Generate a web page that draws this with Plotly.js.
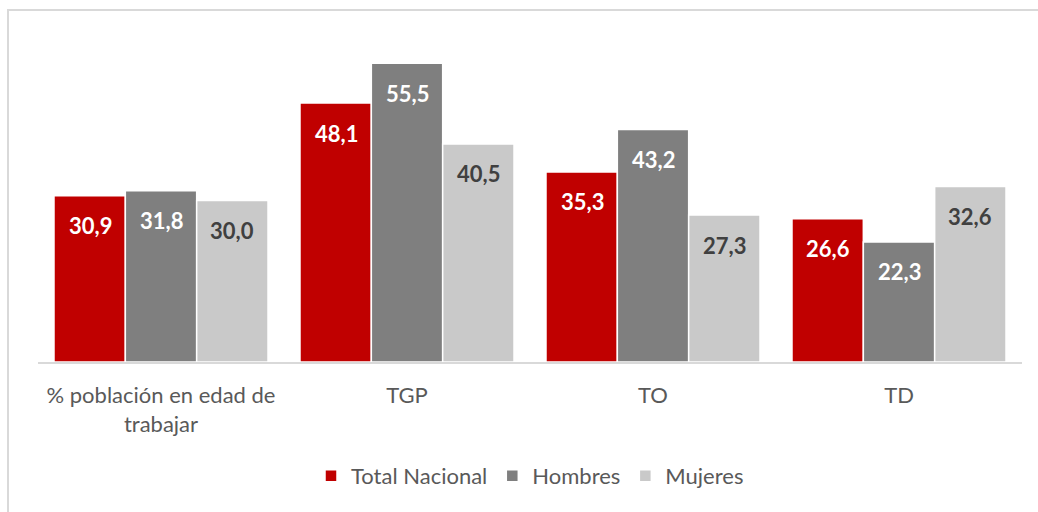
<!DOCTYPE html>
<html>
<head>
<meta charset="utf-8">
<script src="https://cdn.plot.ly/plotly-3.0.1.min.js"></script>
<style>
html,body{margin:0;padding:0;background:#fff;}
#wrap{position:relative;width:1038px;height:512px;}
#frame{position:absolute;left:7px;top:9px;right:0;bottom:0;border-top:2px solid #d9d9d9;border-left:2px solid #d9d9d9;pointer-events:none;}
#chart{position:absolute;left:0;top:0;width:1038px;height:512px;}
</style>
</head>
<body>
<div id="wrap"><div id="chart"></div><div id="frame"></div></div>
<script>
const categories = ["% población en edad de<br>trabajar", "TGP", "TO", "TD"];
const totalNacional = [30.9, 48.1, 35.3, 26.6];
const hombres = [31.8, 55.5, 43.2, 22.3];
const mujeres = [30.0, 40.5, 27.3, 32.6];
const seriesNames = ["Total Nacional", "Hombres", "Mujeres"];
const seriesColors = ["#c00000", "#7f7f7f", "#c9c9c9"];
const labelColors = ["#ffffff", "#ffffff", "#404040"];
const seriesValues = [totalNacional, hombres, mujeres];

const font = "Lato, 'Open Sans', sans-serif";
const barStep = 71;     // pixel offset between bars within a group (style)
const labelDrop = -30;  // label offset below bar top (style)

const traces = seriesValues.map((vals, i) => ({
  type: "bar",
  name: seriesNames[i],
  x: categories,
  y: vals,
  marker: {color: seriesColors[i], line: {color: "#ffffff", width: 1.5}},
  hoverinfo: "none"
}));

const annotations = [];
seriesValues.forEach((vals, i) => {
  vals.forEach((v, j) => {
    annotations.push({
      x: categories[j], y: v, xref: "x", yref: "y",
      xshift: (i - 1) * barStep, yshift: labelDrop,
      text: v.toFixed(1).replace(".", ","),
      showarrow: false, xanchor: "center", yanchor: "middle",
      font: {family: font, size: 22, color: labelColors[i], weight: "bold"}
    });
  });
});

const layout = {
  width: 1038, height: 512,
  margin: {l: 38, r: 16, t: 39, b: 150},
  paper_bgcolor: "#ffffff",
  plot_bgcolor: "#ffffff",
  separators: ",.",
  barmode: "group",
  bargap: 0.13,
  bargroupgap: 0,
  showlegend: true,
  legend: {orientation: "h", x: 0.5, xanchor: "center", y: -0.353, yanchor: "middle",
    font: {family: font, size: 22, color: "#595959"}, itemwidth: 30, traceorder: "normal"},
  xaxis: {type: "category", showline: true, linecolor: "#d9d9d9", linewidth: 1.5,
    ticks: "", ticklabelstandoff: 13, tickfont: {family: font, size: 22, color: "#595959"},
    showgrid: false, zeroline: false},
  yaxis: {range: [0, 60], visible: false, showgrid: false, zeroline: false},
  annotations: annotations,
  font: {family: font}
};

Plotly.newPlot("chart", traces, layout, {displayModeBar: false, staticPlot: true});
</script>
</body>
</html>
